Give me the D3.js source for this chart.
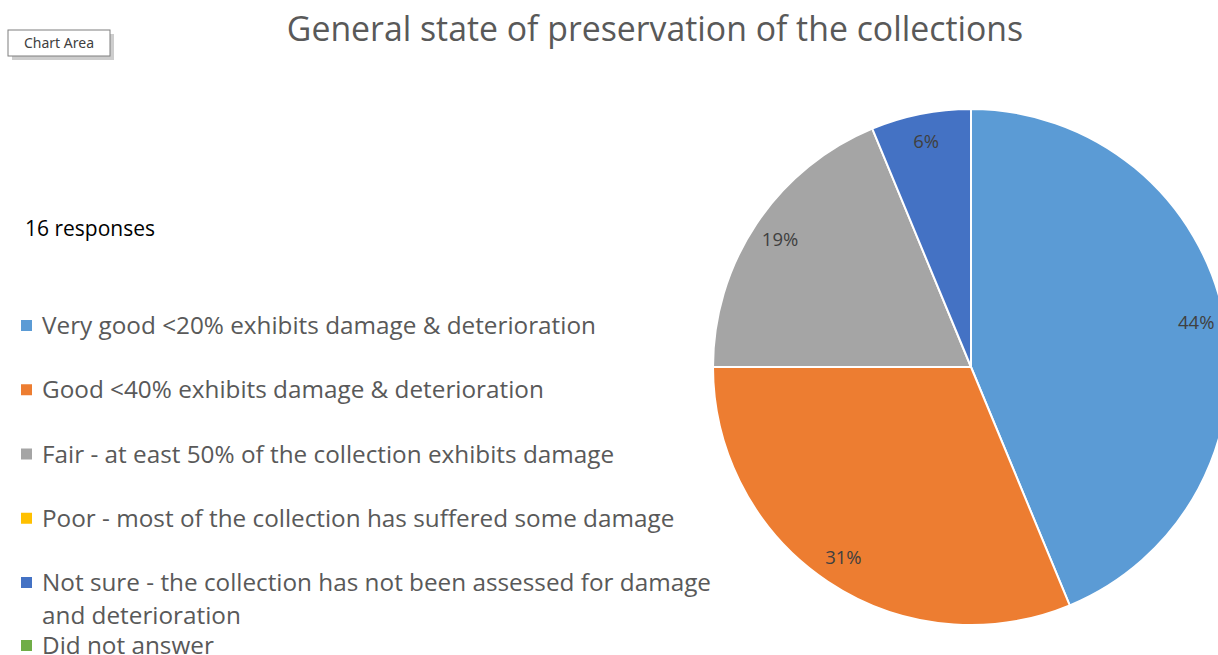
<!DOCTYPE html>
<html>
<head>
<meta charset="utf-8">
<script src="https://cdn.jsdelivr.net/npm/d3@7"></script>
<style>
  html, body { margin: 0; padding: 0; background: #ffffff; }
  svg { display: block; }
</style>
</head>
<body>
<svg id="chart" width="1218" height="655"></svg>
<script>
// Survey answers: state of preservation of the collections (16 responses)
const categories = [
  "Very good <20% exhibits damage & deterioration",
  "Good <40% exhibits damage & deterioration",
  "Fair - at east 50% of the collection exhibits damage",
  "Poor - most of the collection has suffered some damage",
  "Not sure - the collection has not been assessed for damage and deterioration",
  "Did not answer"
];
const responses = [7, 5, 3, 0, 1, 0];
const colors = ["#5B9BD5", "#ED7D31", "#A5A5A5", "#FFC000", "#4472C4", "#70AD47"];
const legendLines = [
  ["Very good <20% exhibits damage & deterioration"],
  ["Good <40% exhibits damage & deterioration"],
  ["Fair - at east 50% of the collection exhibits damage"],
  ["Poor - most of the collection has suffered some damage"],
  ["Not sure - the collection has not been assessed for damage", "and deterioration"],
  ["Did not answer"]
];
const title = "General state of preservation of the collections";
const responseNote = "16 responses";

const svg = d3.select("#chart");
const font = "'Open Sans', sans-serif";

// Title
svg.append("text")
  .attr("x", 655).attr("y", 41)
  .attr("text-anchor", "middle")
  .attr("font-family", font)
  .attr("font-size", 33.8)
  .attr("fill", "#595959")
  .text(title);

// "Chart Area" hover tag
const tag = svg.append("g").attr("transform", "translate(8,30)");
tag.append("rect").attr("x", 4).attr("y", 4).attr("width", 102).attr("height", 26)
  .attr("fill", "#b8b8b8").attr("opacity", 0.7);
tag.append("rect").attr("x", 0).attr("y", 0).attr("width", 102).attr("height", 26)
  .attr("fill", "#ffffff").attr("stroke", "#7f7f7f").attr("stroke-width", 1);
tag.append("text").attr("x", 51).attr("y", 18)
  .attr("text-anchor", "middle")
  .attr("font-family", "'Noto Sans', sans-serif")
  .attr("font-size", 14).attr("fill", "#404040")
  .text("Chart Area");

// Response count note
svg.append("text")
  .attr("x", 25).attr("y", 236)
  .attr("font-family", font)
  .attr("font-size", 21)
  .attr("fill", "#000000")
  .text(responseNote);

// Legend
const legendY = d3.scalePoint().domain(d3.range(5)).range([326, 583]);
const legendRows = categories.map((c, i) => ({
  i,
  y: i < 5 ? legendY(i) : 646,
  lines: legendLines[i]
}));
const lg = svg.append("g").attr("font-family", font).attr("font-size", 24.3).attr("fill", "#595959");
const row = lg.selectAll("g.row").data(legendRows).join("g").attr("class", "row")
  .attr("transform", d => `translate(0,${d.y})`);
row.append("rect").attr("x", 21).attr("y", -6).attr("width", 11).attr("height", 11)
  .attr("fill", d => colors[d.i]);
row.each(function(d) {
  const g = d3.select(this);
  d.lines.forEach((ln, k) => {
    g.append("text").attr("x", 42).attr("y", 8 + k * 33).text(ln);
  });
});

// Pie
const cx = 971, cy = 367, R = 258;
const pie = d3.pie().sort(null).value(d => d.v);
const data = responses.map((v, i) => ({ v, i }));
const total = d3.sum(responses);
const arcs = pie(data);
const arc = d3.arc().innerRadius(0).outerRadius(R);
const labelArc = d3.arc().innerRadius(R * 0.89).outerRadius(R * 0.89);

const pg = svg.append("g").attr("transform", `translate(${cx},${cy})`);
pg.selectAll("path").data(arcs.filter(a => a.data.v > 0)).join("path")
  .attr("d", arc)
  .attr("fill", a => colors[a.data.i])
  .attr("stroke", "#ffffff")
  .attr("stroke-width", 2)
  .attr("stroke-linejoin", "round");

pg.selectAll("text.lbl").data(arcs.filter(a => a.data.v > 0)).join("text")
  .attr("class", "lbl")
  .attr("transform", a => `translate(${labelArc.centroid(a)})`)
  .attr("text-anchor", "middle")
  .attr("dy", "0.35em")
  .attr("font-family", font)
  .attr("font-size", 18.5)
  .attr("fill", "#404040")
  .text(a => Math.round(a.data.v / total * 100) + "%");
</script>
</body>
</html>
